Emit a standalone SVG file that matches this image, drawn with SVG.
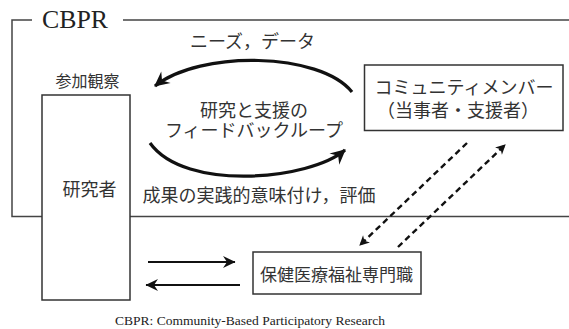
<svg xmlns="http://www.w3.org/2000/svg" width="569" height="329" viewBox="0 0 569 329">
<defs>
<style>
.jp{font-family:"Noto Sans CJK JP","Noto Sans CJK SC",sans-serif;fill:#333;text-anchor:middle}
.s18{font-size:18px}
.frame{fill:none;stroke:#444;stroke-width:1.5}
.box{fill:#fff;stroke:#333;stroke-width:1.5}
.thick{fill:none;stroke:#111;stroke-width:3.2}
.mid{fill:none;stroke:#111;stroke-width:2}
.dash{fill:none;stroke:#111;stroke-width:2.4;stroke-dasharray:6 4}
</style>
<marker id="ah" markerUnits="userSpaceOnUse" viewBox="-16 -9 18 18" markerWidth="18" markerHeight="18" refX="0" refY="0" orient="auto">
<path d="M1,0 L-14,-7.5 L-9,0 L-14,7.5 Z" fill="#111"/>
</marker>
<marker id="ah2" markerUnits="userSpaceOnUse" viewBox="-16 -9 18 18" markerWidth="18" markerHeight="18" refX="0" refY="0" orient="auto">
<path d="M0.5,0 L-12,-6 L-8,0 L-12,6 Z" fill="#111"/>
</marker>
<marker id="ah3" markerUnits="userSpaceOnUse" viewBox="-12 -7 14 14" markerWidth="14" markerHeight="14" refX="0" refY="0" orient="auto">
<path d="M1,0 L-9,-5 L-6,0 L-9,5 Z" fill="#111"/>
</marker>
</defs>
<rect width="569" height="329" fill="#fff"/>

<g id="cbpr-frame">
<path class="frame" d="M32,20 H12 V216.5 H42 M123,20 H569 M130,216.5 H569"/>
<text x="42" y="28" font-family="Liberation Serif,serif" font-size="25" fill="#222" textLength="66" lengthAdjust="spacingAndGlyphs">CBPR</text>
</g>

<g id="researcher">
<rect class="box" x="42" y="95" width="88" height="205"/>
<text class="jp s18" x="89.5" y="196">研究者</text>
<text class="jp" x="87.5" y="87" font-size="16">参加観察</text>
</g>

<g id="community">
<rect class="box" x="364.5" y="65" width="198.5" height="65.5"/>
<text class="jp s18" x="464" y="94">コミュニティメンバー</text>
<text class="jp s18" x="458" y="117">（当事者・支援者）</text>
</g>

<g id="professionals">
<rect class="box" x="253" y="252" width="168" height="42"/>
<text class="jp" x="336.5" y="281" font-size="17">保健医療福祉専門職</text>
</g>

<g id="connectors">
<path class="thick" d="M352,92 C320,52 200,50 155,86" marker-end="url(#ah)"/>
<path class="thick" d="M150,143 C185,192 310,180 345,150" marker-end="url(#ah)"/>
<path class="mid" d="M148,262 H235" marker-end="url(#ah2)"/>
<path class="mid" d="M240,285 H146" marker-end="url(#ah2)"/>
<path class="dash" d="M467,143 L360,245" marker-end="url(#ah3)"/>
<path class="dash" d="M398,247 L505,145" marker-end="url(#ah3)"/>
</g>

<g id="labels">
<text class="jp s18" x="252.5" y="48">ニーズ，データ</text>
<text class="jp s18" x="254" y="117">研究と支援の</text>
<text class="jp s18" x="254" y="137">フィードバックループ</text>
<text class="jp s18" x="259" y="202">成果の実践的意味付け，評価</text>
<text x="250" y="325" font-family="Liberation Serif,serif" font-size="13" fill="#222" text-anchor="middle" textLength="270" lengthAdjust="spacingAndGlyphs">CBPR: Community-Based Participatory Research</text>
</g>
</svg>
